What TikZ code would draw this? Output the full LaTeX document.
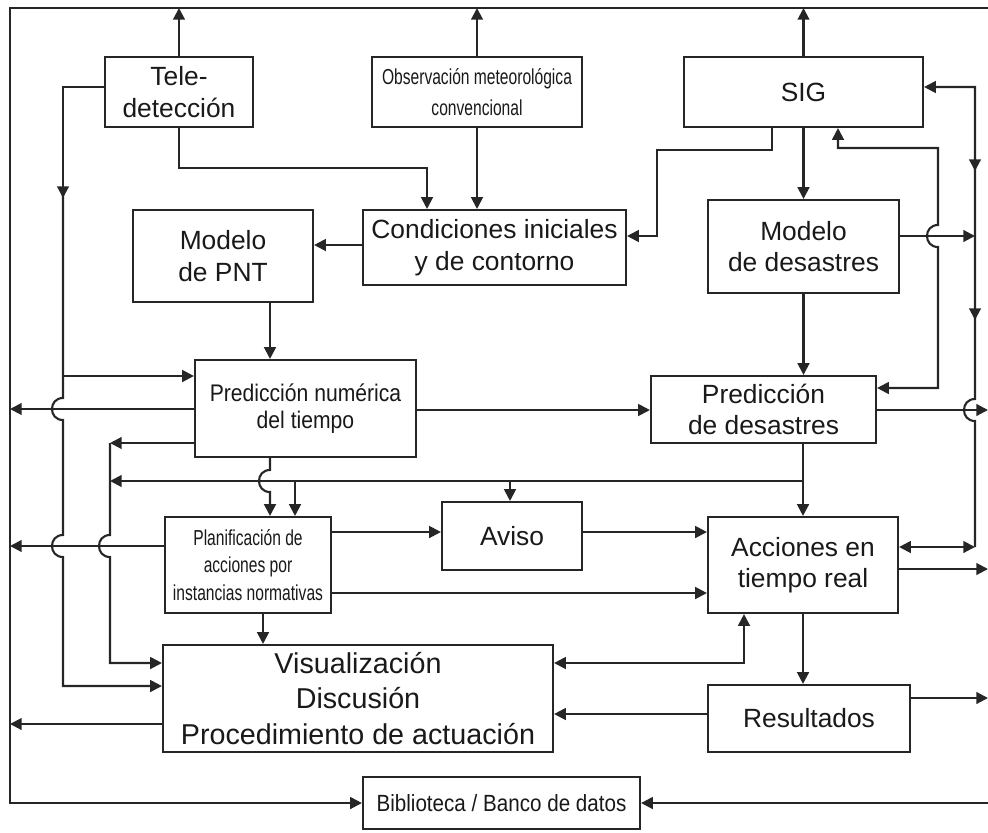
\documentclass[tikz,border=0pt]{standalone}
\usepackage{fontspec}
\setmainfont{Liberation Sans}
\newfontfamily\condA[FakeStretch=0.72]{Liberation Sans}
\newfontfamily\condB[FakeStretch=0.88]{Liberation Sans}
\usetikzlibrary{arrows.meta}
\begin{document}
\begin{tikzpicture}[x=0.03cm,y=-0.03cm,
  >={Triangle[length=10pt,width=10pt]},
  conn/.style={line width=1.8pt,draw=black!85},
  arr/.style={conn,->},
  darr/.style={conn,<->},
  box/.style={draw=black!85,line width=1.8pt,inner sep=0pt,align=center,fill=white,
    text=black!90,font=\fontsize{22.5}{27}\selectfont},
  boxA/.style={box,font=\condA\fontsize{18.5}{23.5}\selectfont},
  boxB/.style={box,font=\condB\fontsize{20.5}{23.5}\selectfont}]
\useasboundingbox (0,0) rectangle (988,832);

% nodes
\node[box,minimum width=4.44cm,minimum height=2.1cm] (tele) at (179,92) {Tele-\\detección};
\node[boxA,minimum width=6.3cm,minimum height=2.1cm,font=\condA\fontsize{18.5}{27}\selectfont] (obs) at (477,92) {Observación meteorológica\\convencional};
\node[box,minimum width=7.17cm,minimum height=2.1cm] (sig) at (803.5,92) {SIG};
\node[box,minimum width=7.89cm,minimum height=2.25cm] (cond) at (494.5,247.5) {Condiciones iniciales\\y de contorno};
\node[box,minimum width=5.4cm,minimum height=2.76cm] (pnt) at (223,256) {Modelo\\de PNT};
\node[box,minimum width=5.73cm,minimum height=2.79cm] (mdis) at (803.5,246.5) {Modelo\\de desastres};
\node[boxB,minimum width=6.63cm,minimum height=2.91cm] (pnp) at (305.5,408.5) {Predicción numérica\\del tiempo};
\node[box,minimum width=6.75cm,minimum height=2.01cm] (pdis) at (763.5,409.5) {Predicción\\de desastres};
\node[boxA,minimum width=4.98cm,minimum height=2.88cm] (plan) at (248,565) {Planificación de\\acciones por\\instancias normativas};
\node[box,minimum width=4.2cm,minimum height=2.04cm] (aviso) at (512,536) {Aviso};
\node[box,minimum width=5.7cm,minimum height=2.88cm] (acc) at (803,565) {Acciones en\\tiempo real};
\node[box,minimum width=11.7cm,minimum height=3.21cm,font=\fontsize{24.5}{30}\selectfont] (vis) at (358,698.5) {Visualización\\Discusión\\Procedimiento de actuación};
\node[box,minimum width=6.06cm,minimum height=2.01cm] (res) at (809,718.5) {Resultados};
\node[boxB,minimum width=8.31cm,minimum height=1.56cm,font=\condB\fontsize{20}{24}\selectfont] (bib) at (501.5,803) {Biblioteca / Banco de datos};

% frame
\coordinate (fTL) at (10,8);
\coordinate (fTR) at (988,8);
\coordinate (fBL) at (10,803);
\coordinate (fBR) at (988,803);
\draw[arr] (fTR) -- (fTL) -- (fBL) -- (bib.west);
\draw[arr] (fBR) -- (bib.east);

% outputs to the top
\draw[arr] (tele.north) -- (tele.north |- fTL);
\draw[arr] (obs.north) -- (obs.north |- fTL);
\draw[arr] (sig.north) -- (sig.north |- fTL);

% Teledeteccion left branch
\coordinate (t1) at (63,87);
\draw[arr] (tele.west |- t1) -- (t1) -- (63,198);
\draw[arr] (63,190) -- (63,398) .. controls (48.3,398) and (48.3,420) .. (63,420)
  -- (63,535) .. controls (48.3,535) and (48.3,557) .. (63,557)
  -- (63,686) -- (vis.west |- 63,686);
\draw[arr] (63,376) -- (pnp.west |- 63,376);

% Teledeteccion / Observacion -> Condiciones
\draw[arr] (tele.south) |- (427,168) -- (cond.north -| 427,168);
\draw[arr] (obs.south) -- (cond.north -| obs.south);
\draw[arr] (cond.west |- 0,245) -- (pnt.east |- 0,245);
\draw[arr] (sig.south -| 772,0) |- (657,150) |- (cond.east |- 0,236);

% Modelo de PNT -> Prediccion numerica
\draw[arr] (pnt.south -| 270,0) -- (pnp.north -| 270,0);

% Prediccion numerica outputs
\coordinate (L1) at (10,409);
\draw[arr] (pnp.west |- L1) -- (L1);
\draw[arr] (pnp.west |- 0,443) -- (110,443);
\draw[arr] (110,443) -- (110,535) .. controls (95.3,535) and (95.3,557) .. (110,557)
  -- (110,663) -- (vis.west |- 0,663);
\draw[arr] (pnp.east |- 0,410) -- (pdis.west |- 0,410);
\draw[arr] (pnp.south -| 270,0) -- (270,470) .. controls (255.3,470) and (255.3,492) .. (270,492)
  -- (plan.north -| 270,0);

% Prediccion de desastres
\coordinate (j1) at (803,481);
\draw[arr] (pdis.south -| 803,0) -- (acc.north -| 803,0);
\draw[arr] (j1) -- (110,481);
\draw[arr] (510,481) -- (aviso.north -| 510,0);
\draw[arr] (295,481) -- (plan.north -| 295,0);
\coordinate (R1) at (988,410);
\draw[arr] (pdis.east |- R1) -- (R1);
\draw[darr] (pdis.east |- 0,388) -- (938,388) -- (938,247)
  .. controls (923.3,247) and (923.3,225) .. (938,225)
  -- (938,148) -- (838,148) -- (sig.south -| 838,0);

% Planificacion
\coordinate (L2) at (10,546);
\draw[arr] (plan.west |- L2) -- (L2);
\draw[arr] (plan.east |- 0,532) -- (aviso.west |- 0,532);
\draw[arr] (plan.east |- 0,593) -- (acc.west |- 0,593);
\draw[arr] (plan.south -| 263,0) -- (vis.north -| 263,0);
\draw[arr] (aviso.east |- 0,532) -- (acc.west |- 0,532);

% SIG / Modelo de desastres
\draw[arr] (sig.south) -- (mdis.north);
\draw[arr] (mdis.south) -- (pdis.north -| mdis.south);
\draw[arr] (mdis.east |- 0,236) -- (975,236);
\draw[arr] (975,547) -- (975,421) .. controls (960.3,421) and (960.3,399) .. (975,399)
  -- (975,87) -- (sig.east |- 0,87);
\draw[arr] (975,100) -- (975,171);
\draw[arr] (975,250) -- (975,320);
\draw[darr] (acc.east |- 0,547) -- (975,547);

% Acciones / Resultados / Visualizacion
\coordinate (R2) at (988,569);
\draw[arr] (acc.east |- R2) -- (R2);
\draw[arr] (acc.south) -- (res.north -| acc.south);
\draw[darr] (vis.east |- 0,663) -| (acc.south -| 744,0);
\coordinate (R3) at (988,698);
\draw[arr] (res.east |- R3) -- (R3);
\draw[arr] (res.west |- 0,714) -- (vis.east |- 0,714);
\coordinate (L3) at (10,724);
\draw[arr] (vis.west |- L3) -- (L3);
\end{tikzpicture}
\end{document}
